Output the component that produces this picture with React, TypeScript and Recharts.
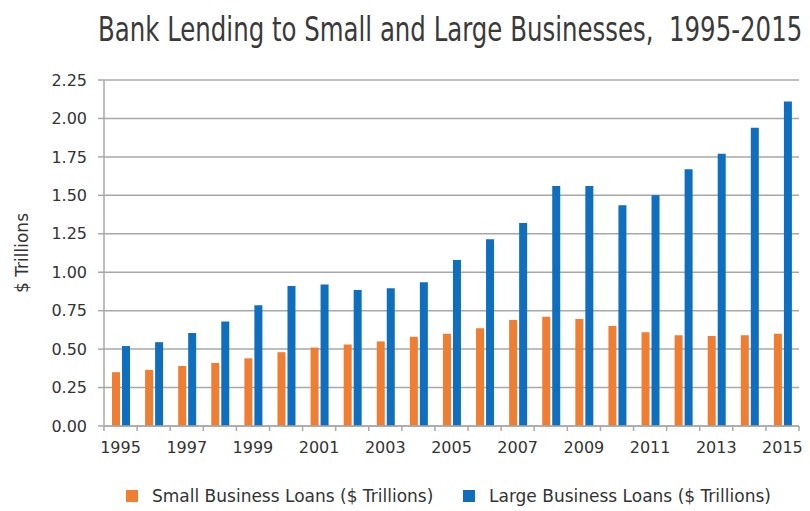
import { useLayoutEffect, useRef, useState } from "react";
import { Bar, BarChart, CartesianGrid, Legend, XAxis, YAxis } from "recharts";

const years = [
  "1995", "1996", "1997", "1998", "1999", "2000", "2001", "2002", "2003", "2004", "2005",
  "2006", "2007", "2008", "2009", "2010", "2011", "2012", "2013", "2014", "2015",
];
const smallLoans = [
  0.35, 0.365, 0.39, 0.41, 0.44, 0.48, 0.51, 0.53, 0.55, 0.58, 0.6,
  0.635, 0.69, 0.71, 0.695, 0.65, 0.61, 0.59, 0.585, 0.59, 0.6,
];
const largeLoans = [
  0.52, 0.545, 0.605, 0.68, 0.785, 0.91, 0.92, 0.885, 0.895, 0.935, 1.08,
  1.215, 1.32, 1.56, 1.56, 1.435, 1.5, 1.67, 1.77, 1.94, 2.11,
];
const yTicks = [0, 0.25, 0.5, 0.75, 1, 1.25, 1.5, 1.75, 2, 2.25];

const title = "Bank Lending to Small and Large Businesses,  1995-2015";
const smallName = "Small Business Loans ($ Trillions)";
const largeName = "Large Business Loans ($ Trillions)";

const ORANGE = "#EF7E32";
const BLUE = "#0F6EBE";
const GRID = "#A8A8A8";
const TEXT = "#333333";
const FONT = "'DejaVu Sans', Verdana, sans-serif";

const data = years.map((year, i) => ({
  year,
  small: smallLoans[i],
  large: largeLoans[i],
}));

// squeeze the title into the same width as the reference (condensed look)
function Title() {
  const ref = useRef<HTMLSpanElement>(null);
  const [scale, setScale] = useState(1);
  useLayoutEffect(() => {
    const w = ref.current?.offsetWidth ?? 0;
    if (w > 0) setScale(704 / w);
  }, []);
  return (
    <span
      ref={ref}
      style={{
        position: "absolute",
        left: 98,
        top: 10,
        fontSize: 33,
        lineHeight: "40px",
        color: "#3a3a3a",
        fontFamily: "'Liberation Sans Narrow', 'DejaVu Sans Condensed', 'DejaVu Sans', sans-serif",
        whiteSpace: "pre",
        transform: `scaleX(${scale})`,
        transformOrigin: "0 0",
      }}
    >
      {title}
    </span>
  );
}

function YearTick(props: any) {
  const { x, y, payload, index } = props;
  const half = payload?.offset ?? 0;
  return (
    <g>
      <line x1={x - half} x2={x - half} y1={y} y2={y + 5} stroke={GRID} strokeWidth={1.5} />
      {index === years.length - 1 && (
        <line x1={x + half} x2={x + half} y1={y} y2={y + 5} stroke={GRID} strokeWidth={1.5} />
      )}
      {index % 2 === 0 && (
        <text x={x} y={y + 27} textAnchor="middle" fill={TEXT} fontSize={16} fontFamily={FONT}>
          {payload.value}
        </text>
      )}
    </g>
  );
}

function AxisTitle(props: any) {
  const vb = props.viewBox ?? { y: 80, height: 346 };
  const cy = vb.y + vb.height / 2;
  return (
    <text
      x={22}
      y={cy}
      transform={`rotate(-90, 22, ${cy})`}
      textAnchor="middle"
      dominantBaseline="central"
      fill={TEXT}
      fontSize={17}
      fontFamily={FONT}
    >
      $ Trillions
    </text>
  );
}

function LegendBox() {
  const item = (color: string, label: string, left: number) => (
    <div style={{ position: "absolute", left, top: 0, display: "flex", alignItems: "center" }}>
      <span style={{ width: 12, height: 12, background: color, display: "inline-block" }} />
      <span style={{ marginLeft: 14, fontSize: 17, color: TEXT, fontFamily: FONT, whiteSpace: "nowrap" }}>
        {label}
      </span>
    </div>
  );
  return (
    <div style={{ position: "relative", width: 810, height: 24 }}>
      {item(ORANGE, smallName, 126)}
      {item(BLUE, largeName, 463)}
    </div>
  );
}

export default function App() {
  return (
    <div style={{ position: "absolute", left: 0, top: 0, width: 810, height: 511, background: "#fff", overflow: "hidden" }}>
      <Title />
      <BarChart
        width={810}
        height={511}
        data={data}
        margin={{ top: 80, right: 11, bottom: 31, left: 0 }}
        barSize={8}
        barGap={2}
        style={{ position: "absolute", left: 0, top: 0 }}
      >
        <CartesianGrid vertical={false} stroke={GRID} strokeWidth={1.5} />
        <XAxis
          dataKey="year"
          interval={0}
          height={30}
          tickSize={0}
          tickMargin={0}
          tickLine={false}
          axisLine={{ stroke: GRID, strokeWidth: 1.5 }}
          tick={<YearTick />}
        />
        <YAxis
          width={104}
          domain={[0, 2.25]}
          ticks={yTicks}
          interval={0}
          tickFormatter={(v: number) => v.toFixed(2)}
          tickSize={6}
          tickMargin={11}
          axisLine={{ stroke: GRID, strokeWidth: 1.5 }}
          tickLine={{ stroke: GRID, strokeWidth: 1.5 }}
          tick={{ fill: TEXT, fontSize: 16, fontFamily: FONT }}
          label={{ content: <AxisTitle /> }}
        />
        <Legend
          verticalAlign="bottom"
          content={<LegendBox />}
          wrapperStyle={{ left: 0, top: 486, width: 810 }}
        />
        <Bar dataKey="small" name={smallName} fill={ORANGE} isAnimationActive={false} />
        <Bar dataKey="large" name={largeName} fill={BLUE} isAnimationActive={false} />
      </BarChart>
    </div>
  );
}
